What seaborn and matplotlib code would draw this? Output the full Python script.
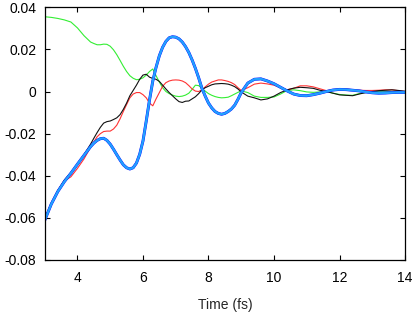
import numpy as np
import pandas as pd
import matplotlib
matplotlib.use("Agg")
import matplotlib.pyplot as plt
import seaborn as sns

# time axis (fs): coarser where the curves are smooth, finer around the big swings
time = np.round(np.concatenate([np.arange(3.0, 4.3, 0.2),
                                np.arange(4.4, 8.95, 0.1),
                                np.arange(9.0, 14.01, 0.2)]), 1)

blue = [-0.0612, -0.0535, -0.0475, -0.0428, -0.0388, -0.0345, -0.0303,
        -0.0262, -0.0245, -0.0232, -0.0224, -0.0222, -0.0232, -0.0250, -0.0274, -0.0300, -0.0325,
        -0.0348, -0.0362, -0.0368, -0.0362, -0.0340, -0.0298, -0.0235, -0.0140, -0.0040, 0.0050,
        0.0115, 0.0170, 0.0210, 0.0238, 0.0255, 0.0260, 0.0258, 0.0250, 0.0235, 0.0213,
        0.0185, 0.0150, 0.0110, 0.0065, 0.0015, -0.0022, -0.0055, -0.0078, -0.0095, -0.0104,
        -0.0108, -0.0104, -0.0095, -0.0083, -0.0065, -0.0037,
        -0.0005, 0.0040, 0.0058, 0.0060, 0.0050, 0.0037, 0.0020, 0.0003, -0.0012, -0.0019,
        -0.0020, -0.0015, -0.0008, 0.0000, 0.0007, 0.0010, 0.0009, 0.0006, 0.0003, -0.0002,
        -0.0006, -0.0008, -0.0007, -0.0005, -0.0004, -0.0004]

black = [-0.0605, -0.0530, -0.0470, -0.0420, -0.0385, -0.0345, -0.0300,
         -0.0250, -0.0222, -0.0195, -0.0170, -0.0150, -0.0143, -0.0140, -0.0133, -0.0125, -0.0110,
         -0.0085, -0.0055, -0.0020, 0.0005, 0.0030, 0.0058, 0.0078, 0.0082, 0.0068, 0.0062,
         0.0058, 0.0048, 0.0030, 0.0012, -0.0005, -0.0020, -0.0035, -0.0048, -0.0052, -0.0046,
         -0.0045, -0.0035, -0.0025, -0.0010, 0.0008, 0.0018, 0.0025, 0.0032, 0.0036, 0.0037,
         0.0038, 0.0037, 0.0035, 0.0030, 0.0023, 0.0012,
         -0.0002, -0.0022, -0.0030, -0.0040, -0.0035, -0.0022, -0.0005, 0.0008, 0.0016, 0.0020,
         0.0018, 0.0015, 0.0006, 0.0000, -0.0008, -0.0016, -0.0018, -0.0020, -0.0012, -0.0005,
         0.0000, 0.0004, 0.0006, 0.0008, 0.0005, 0.0001]

red = [-0.0605, -0.0530, -0.0470, -0.0425, -0.0405, -0.0365, -0.0320,
       -0.0265, -0.0240, -0.0215, -0.0200, -0.0190, -0.0188, -0.0188, -0.0178, -0.0160, -0.0130,
       -0.0095, -0.0062, -0.0030, -0.0012, -0.0005, -0.0005, -0.0015, -0.0030, -0.0055, -0.0068,
       -0.0035, -0.0005, 0.0025, 0.0042, 0.0050, 0.0054, 0.0055, 0.0054, 0.0050, 0.0042,
       0.0028, 0.0012, 0.0002, 0.0000, 0.0008, 0.0022, 0.0035, 0.0045, 0.0050, 0.0055,
       0.0055, 0.0052, 0.0048, 0.0042, 0.0033, 0.0018,
       0.0005, 0.0018, 0.0035, 0.0040, 0.0036, 0.0030, 0.0018, 0.0008, 0.0015, 0.0027,
       0.0027, 0.0022, 0.0013, 0.0004, 0.0008, 0.0013, 0.0012, 0.0008, 0.0006, 0.0005,
       0.0005, 0.0006, 0.0008, 0.0008, 0.0004, 0.0000]

green = [0.0355, 0.0352, 0.0347, 0.0340, 0.0330, 0.0302, 0.0265,
         0.0235, 0.0228, 0.0222, 0.0222, 0.0225, 0.0224, 0.0215, 0.0198, 0.0175, 0.0148,
         0.0120, 0.0095, 0.0075, 0.0063, 0.0056, 0.0058, 0.0065, 0.0078, 0.0095, 0.0107,
         0.0075, 0.0045, 0.0018, 0.0000, -0.0010, -0.0017, -0.0022, -0.0024, -0.0022, -0.0017,
         -0.0008, 0.0010, 0.0030, 0.0028, 0.0015, 0.0002, -0.0010, -0.0018, -0.0024, -0.0028,
         -0.0030, -0.0029, -0.0027, -0.0020, -0.0012, -0.0004,
         0.0003, -0.0005, -0.0022, -0.0028, -0.0028, -0.0026, -0.0012, 0.0005, 0.0008, 0.0004,
         -0.0002, -0.0004, -0.0002, 0.0000, -0.0008, -0.0014, -0.0017, -0.0018, -0.0010, -0.0004,
         0.0000, 0.0001, 0.0001, 0.0000, 0.0000, 0.0000]

df = pd.DataFrame({"time": time, "blue": blue, "black": black, "red": red, "green": green})

sns.set_style("ticks")
plt.rcParams["font.family"] = ["Liberation Sans", "DejaVu Sans"]

fig = plt.figure(figsize=(4.15, 3.12), dpi=100)
ax = fig.add_axes([0.1077, 0.1667, 0.8683, 0.81])

sns.lineplot(data=df, x="time", y="green", color="#33ee33", lw=0.8, ax=ax)
sns.lineplot(data=df, x="time", y="red", color="#ff3333", lw=0.8, ax=ax)
sns.lineplot(data=df, x="time", y="black", color="#111111", lw=0.8, ax=ax)
sns.lineplot(data=df, x="time", y="blue", color="#0000ff", lw=2.1, ax=ax)
sns.lineplot(data=df, x="time", y="blue", color="#22a0ff", lw=1.7, ax=ax)

ax.set_xlim(3, 14)
ax.set_ylim(-0.08, 0.04)
ax.set_xticks([4, 6, 8, 10, 12, 14])
ax.set_yticks([-0.08, -0.06, -0.04, -0.02, 0, 0.02, 0.04])
ax.set_yticklabels(["-0.08", "-0.06", "-0.04", "-0.02", "0", "0.02", "0.04"])
ax.tick_params(direction="in", length=3.5, width=0.8, top=True, right=True,
               labelsize=10, colors="black")
ax.tick_params(axis="x", pad=8)
ax.tick_params(axis="y", pad=6)
for s in ax.spines.values():
    s.set_linewidth(0.9)
    s.set_color("black")
ax.set_xlabel("Time (fs)", fontsize=10, labelpad=9)
ax.set_ylabel("")

fig.savefig("out.png", dpi=100)
